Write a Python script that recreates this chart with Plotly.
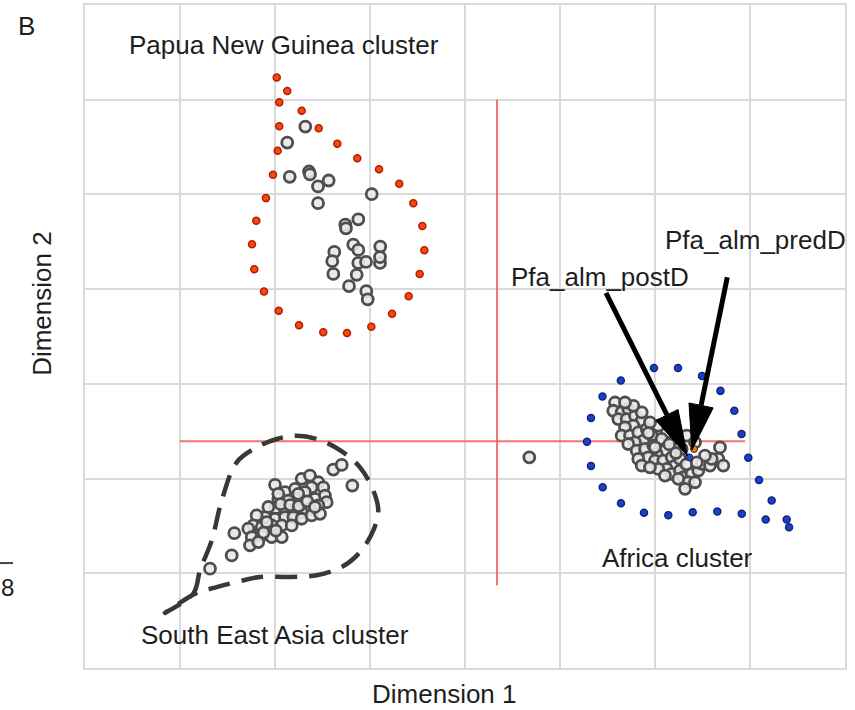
import numpy as np
import plotly.graph_objects as go

# ---------------- data (Dimension 1 / Dimension 2 scores, grid units) ----------------
# Papua New Guinea cluster (grey isolates)
png_x = [2.319, 2.129, 2.155, 2.358, 2.368, 2.453, 2.565, 2.453, 3.018, 2.740, 2.747, 2.877,
         2.624, 2.603, 2.614, 2.824, 2.877, 2.877, 2.958, 3.108, 3.105, 3.105, 2.860, 2.779,
         2.961, 2.976]
png_y = [5.716, 5.547, 5.186, 5.242, 5.211, 5.084, 5.147, 4.908, 5.003, 4.681, 4.642, 4.737,
         4.393, 4.295, 4.161, 4.471, 4.414, 4.277, 4.287, 4.449, 4.277, 4.337, 4.151, 4.032,
         3.979, 3.892]

# Papua New Guinea outline (red dotted)
png_hull_x = [2.018, 2.129, 2.045, 2.281, 2.045, 2.460, 2.028, 2.656, 1.979, 2.866, 3.095, 1.905,
              3.308, 1.803, 3.456, 1.758, 3.551, 1.782, 3.572, 1.884, 3.523, 2.039, 3.407, 2.253,
              3.232, 2.508, 2.758, 3.014]
png_hull_y = [6.235, 6.092, 5.972, 5.884, 5.719, 5.698, 5.460, 5.534, 5.207, 5.382, 5.266, 4.961,
              5.113, 4.723, 4.908, 4.474, 4.666, 4.211, 4.411, 3.976, 4.161, 3.772, 3.926, 3.618,
              3.740, 3.544, 3.537, 3.603]

# South East Asia cluster
sea_x = [2.614, 2.702, 2.814, 1.572, 1.544, 1.316,
         2.000, 2.105, 2.211, 2.281, 2.368, 2.456, 2.508, 2.386, 2.316, 2.211, 2.035, 2.140,
         2.316, 2.421, 2.526, 2.544, 2.456, 2.368, 2.281, 2.211, 2.105, 2.000, 2.000, 2.105,
         2.193, 2.281, 2.386, 2.474, 2.071, 2.176, 1.965, 1.895, 1.807, 1.772, 1.860, 1.719,
         1.755, 1.860, 1.965, 2.071, 1.737, 1.824, 1.913, 2.035, 2.245,
         1.930, 2.060, 2.160, 2.250, 2.340, 2.420, 1.880, 2.010]
sea_y = [2.095, 2.144, 1.926, 1.424, 1.189, 1.049,
         1.934, 1.856, 1.892, 1.997, 2.032, 1.961, 1.908, 1.908, 1.856, 1.786, 1.786, 1.768,
         1.751, 1.786, 1.821, 1.751, 1.716, 1.681, 1.645, 1.681, 1.681, 1.681, 1.576, 1.593,
         1.593, 1.576, 1.611, 1.628, 1.505, 1.505, 1.505, 1.593, 1.611, 1.505, 1.487, 1.471,
         1.382, 1.400, 1.382, 1.382, 1.295, 1.329, 1.540, 1.839, 1.839,
         1.700, 1.730, 1.720, 1.710, 1.760, 1.700, 1.430, 1.450]

# South East Asia outline (dashed)
sea_hull_x = [0.842, 1.140, 1.211, 1.334, 1.439, 1.597, 1.807, 2.018, 2.228, 2.474, 2.719, 2.895,
              3.035, 3.087, 3.035, 2.895, 2.702, 2.439, 2.158, 1.842, 1.597, 1.368, 1.176, 0.842]
sea_hull_y = [0.582, 0.786, 1.032, 1.347, 1.768, 2.172, 2.329, 2.418, 2.453, 2.407, 2.277, 2.119,
              1.874, 1.663, 1.453, 1.224, 1.066, 0.979, 0.961, 0.961, 0.908, 0.849, 0.793, 0.582]

# Africa cluster
afr_x = [4.677,
         5.579, 5.561, 5.649, 5.719, 5.614, 5.702, 5.789, 5.860, 5.772, 5.684, 5.649, 5.737,
         5.824, 5.913, 5.965, 5.877, 5.789, 5.719, 5.807, 5.895, 5.982, 6.053, 6.105, 6.018,
         5.929, 5.824, 6.000, 6.087, 6.176, 6.211, 6.123, 6.035, 6.176, 6.263, 6.298, 6.386,
         6.456, 6.351, 6.421, 6.316, 6.492, 6.579, 6.666, 6.719, 6.597, 6.526, 6.334, 6.281,
         6.421, 6.211, 6.263, 6.105, 6.245, 6.684, 5.860, 5.947, 6.193, 6.123, 6.035, 5.947,
         5.860, 5.772, 5.684, 6.070, 6.150, 6.330, 6.440, 6.000, 5.930, 6.220]
afr_y = [2.224,
         2.803, 2.716, 2.698, 2.734, 2.628, 2.628, 2.663, 2.611, 2.558, 2.540, 2.453, 2.453,
         2.487, 2.523, 2.453, 2.400, 2.382, 2.365, 2.295, 2.313, 2.347, 2.382, 2.295, 2.260,
         2.224, 2.207, 2.189, 2.189, 2.224, 2.137, 2.102, 2.102, 2.049, 2.084, 2.014, 2.049,
         2.084, 1.961, 1.961, 1.892, 2.155, 2.137, 2.207, 2.137, 2.207, 2.242, 2.453, 2.313,
         2.382, 2.347, 2.207, 2.032, 1.997, 2.329, 2.137, 2.119, 2.418, 2.487, 2.558, 2.593,
         2.698, 2.768, 2.803, 2.420, 2.360, 2.150, 2.170, 2.330, 2.480, 2.270]

# Africa outline (blue dotted)
afr_hull_x = [5.989, 6.242, 6.495, 6.689, 6.835, 6.911, 6.982, 7.095, 7.228, 7.386, 7.411, 7.165,
              6.913, 6.656, 6.397, 6.140, 5.884, 5.642, 5.449, 5.326, 5.284, 5.326, 5.447, 5.640]
afr_hull_y = [3.168, 3.168, 3.084, 2.926, 2.716, 2.471, 2.221, 1.984, 1.768, 1.568, 1.487, 1.568,
              1.628, 1.653, 1.645, 1.614, 1.639, 1.740, 1.908, 2.134, 2.389, 2.639, 2.866, 3.035]

# Query samples
query_names = ["Pfa_alm_predD", "Pfa_alm_postD"]
query_x = [6.411, 6.361]
query_y = [2.313, 2.224]
query_colors = ["#f07a1a", "#1f4fd0"]

# Reference (origin) lines
ref_h_x = [1.0, 6.95]
ref_h_y = [2.393, 2.393]
ref_v_x = [4.337, 4.337]
ref_v_y = [0.874, 6.0]

# Arrows (label -> point)
arrow_start_x = [5.484, 6.761]
arrow_start_y = [3.961, 4.126]
arrow_tip_x = [6.340, 6.389]
arrow_tip_y = [2.242, 2.302]

# Text labels
label_text = ["Papua New Guinea cluster", "South East Asia cluster", "Africa cluster",
              "Pfa_alm_postD", "Pfa_alm_predD"]
label_x = [2.095, 2.000, 6.242, 5.421, 7.063]
label_y = [6.579, 0.347, 1.158, 4.126, 4.521]

FONT = "Liberation Sans, Arial, sans-serif"
FS = 26

fig = go.Figure()

# reference lines
fig.add_trace(go.Scatter(x=ref_h_x, y=ref_h_y, mode="lines",
                         line=dict(color="rgba(240,90,90,0.85)", width=2), hoverinfo="skip"))
fig.add_trace(go.Scatter(x=ref_v_x, y=ref_v_y, mode="lines",
                         line=dict(color="rgba(240,90,90,0.85)", width=2), hoverinfo="skip"))

# outlines
fig.add_trace(go.Scatter(x=png_hull_x, y=png_hull_y, mode="markers",
                         marker=dict(size=7, color="#f24a10", line=dict(color="#b81c00", width=1.5))))
fig.add_trace(go.Scatter(x=afr_hull_x, y=afr_hull_y, mode="markers",
                         marker=dict(size=7, color="#2040c0", line=dict(color="#0e2588", width=1.5))))
fig.add_trace(go.Scatter(x=sea_hull_x, y=sea_hull_y, mode="lines",
                         line=dict(color="#383838", width=4.5, dash="22px,12px", shape="spline",
                                   smoothing=1.0)))

circle_marker = dict(size=11, color="rgba(232,232,232,0.9)",
                     line=dict(color="#4e4e4e", width=2.8))
for xs, ys in [(png_x, png_y), (sea_x, sea_y), (afr_x, afr_y)]:
    fig.add_trace(go.Scatter(x=xs, y=ys, mode="markers", marker=circle_marker))

fig.add_trace(go.Scatter(x=query_x, y=query_y, mode="markers",
                         marker=dict(size=7, color=query_colors, line=dict(color="#222", width=1))))

# arrows: shaft + triangular head, built from start/tip data
head_len, head_w = 0.48, 0.26
for sx, sy, tx, ty in zip(arrow_start_x, arrow_start_y, arrow_tip_x, arrow_tip_y):
    d = np.array([tx - sx, ty - sy])
    u = d / np.linalg.norm(d)
    n = np.array([-u[1], u[0]])
    base = np.array([tx, ty]) - u * head_len
    fig.add_trace(go.Scatter(x=[sx, base[0]], y=[sy, base[1]], mode="lines",
                             line=dict(color="black", width=5)))
    p1 = base + n * head_w / 2
    p2 = base - n * head_w / 2
    fig.add_trace(go.Scatter(x=[p1[0], tx, p2[0], p1[0]], y=[p1[1], ty, p2[1], p1[1]],
                             mode="lines", fill="toself", fillcolor="black",
                             line=dict(color="black", width=1)))

for t, x, y in zip(label_text, label_x, label_y):
    fig.add_annotation(x=x, y=y, text=t, showarrow=False, xanchor="center", yanchor="middle",
                       font=dict(size=FS, color="#1e1e1e", family=FONT))

# panel letter, axis titles, neighbouring-panel fragment
paper_txt = dict(xref="paper", yref="paper", showarrow=False, xanchor="center", yanchor="middle")
fig.add_annotation(x=-0.0776, y=0.968, text="B",
                   font=dict(size=FS, color="#1e1e1e", family=FONT), **paper_txt)
fig.add_annotation(x=0.4724, y=-0.039, text="Dimension 1",
                   font=dict(size=FS, color="#1e1e1e", family=FONT), **paper_txt)
fig.add_annotation(x=-0.0559, y=0.550, text="Dimension 2", textangle=-90,
                   font=dict(size=FS, color="#1e1e1e", family=FONT), **paper_txt)
fig.add_annotation(x=-0.1026, y=0.1218, text="8",
                   font=dict(size=FS - 2, color="#1e1e1e", family=FONT), **paper_txt)
fig.add_shape(type="line", xref="paper", yref="paper", x0=-0.1118, x1=-0.0947,
              y0=0.1583, y1=0.1583, line=dict(color="#444", width=2))

axis_common = dict(showticklabels=False, ticks="", dtick=1, showgrid=True, gridcolor="#dadada",
                   gridwidth=2, zeroline=False, showline=True, linecolor="#dadada", linewidth=2,
                   mirror=True, fixedrange=True)
fig.update_xaxes(range=[0, 8], tick0=0, **axis_common)
fig.update_yaxes(range=[0, 7], tick0=0, **axis_common)

fig.update_layout(width=855, height=710, margin=dict(l=85, r=10, t=3, b=42),
                  paper_bgcolor="white", plot_bgcolor="white", showlegend=False,
                  font=dict(family=FONT))

fig.write_html("out.html", config={"displayModeBar": False},
               post_script="document.body.style.margin='0';")
